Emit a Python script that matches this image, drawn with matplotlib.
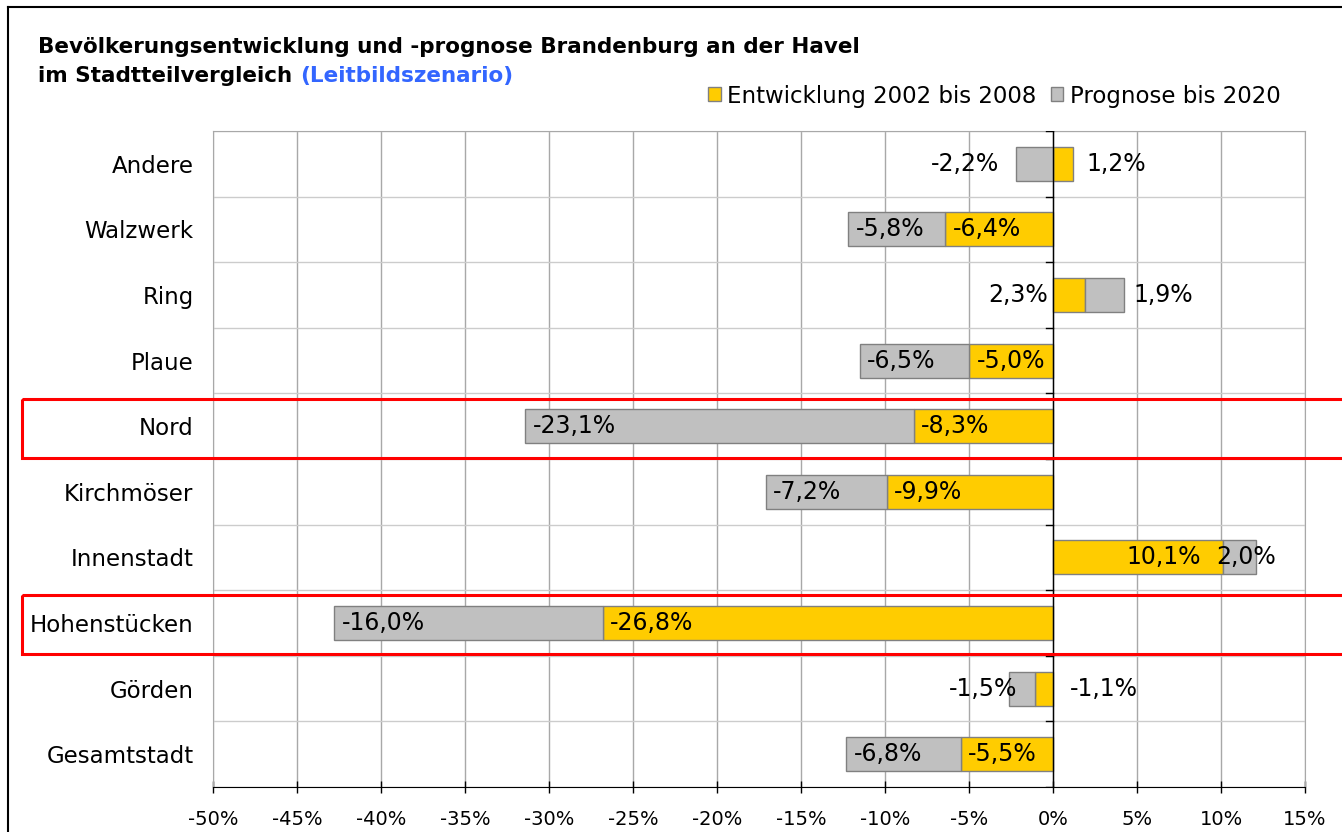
import numpy as np
import matplotlib
matplotlib.use("Agg")
import matplotlib.pyplot as plt
from matplotlib.patches import Rectangle, Patch
from matplotlib.lines import Line2D
from matplotlib.transforms import blended_transform_factory

# data (per cent)
categories = ["Andere", "Walzwerk", "Ring", "Plaue", "Nord", "Kirchmöser",
              "Innenstadt", "Hohenstücken", "Görden", "Gesamtstadt"]
entwicklung = [1.2, -6.4, 1.9, -5.0, -8.3, -9.9, 10.1, -26.8, -1.1, -5.5]
prognose = [-2.2, -5.8, 2.3, -6.5, -23.1, -7.2, 2.0, -16.0, -1.5, -6.8]
highlighted = ["Nord", "Hohenstücken"]
xticks = np.arange(-50, 16, 5)

YELLOW = "#FFCC00"
GREY = "#C0C0C0"
EDGE = "#808080"

# label placement that differs from the default "inside end"
label_fix = {
    ("Andere", 0): ("left", 0.8),
    ("Andere", 1): ("right", -1.0),
    ("Ring", 0): ("left", 2.9),
    ("Ring", 1): ("right", -4.5),
    ("Görden", 0): ("left", 2.1),
    ("Görden", 1): ("right", 0.5),
    ("Innenstadt", 0): ("right", -1.3),
    ("Innenstadt", 1): ("left", -2.4),
}

fig = plt.figure(figsize=(13.42, 8.32), dpi=100)
ax = fig.add_axes([213 / 1342, 45 / 832, 1092 / 1342, 656 / 832])

y = np.arange(len(categories))
ent = np.array(entwicklung)
prg = np.array(prognose)
prg_left = np.where(np.sign(prg) == np.sign(ent), ent, 0)

h = 0.52
ax.barh(y, ent, height=h, color=YELLOW, edgecolor=EDGE, lw=1, zorder=3)
ax.barh(y, prg, left=prg_left, height=h, color=GREY, edgecolor=EDGE, lw=1, zorder=3)


def fmt(v):
    return f"{v:.1f}%".replace(".", ",")


for i, cat in enumerate(categories):
    for s, (val, left) in enumerate([(ent[i], 0), (prg[i], prg_left[i])]):
        end = left + val
        ha, off = label_fix.get((cat, s), ("left", 0.45) if val < 0 else ("right", -0.45))
        ax.text(end + off, i, fmt(val), ha=ha, va="center", fontsize=17, zorder=5)

ax.set_xlim(-50, 15)
ax.set_ylim(len(categories) - 0.5, -0.5)
ax.set_xticks(xticks)
ax.set_xticklabels([f"{t}%" for t in xticks], fontsize=14)
ax.set_yticks(y)
ax.set_yticklabels(categories, fontsize=16.5)
ax.tick_params(axis="y", length=0, pad=14)
ax.tick_params(axis="x", direction="inout", length=9, width=1, pad=12, color="black")

# grid
for t in xticks:
    ax.axvline(t, color="#A8A8A8", lw=1, zorder=1)
for b in np.arange(len(categories) + 1) - 0.5:
    ax.axhline(b, color="#CCCCCC", lw=1, zorder=1)
    ax.plot([-0.4, 0], [b, b], color="black", lw=1, zorder=4)
ax.axvline(0, color="black", lw=1, zorder=4)

for sp in ["top", "right", "left"]:
    ax.spines[sp].set_color("#A8A8A8")
ax.spines["bottom"].set_color("black")
ax.spines["bottom"].set_zorder(5)

# red frames around highlighted rows
trans = blended_transform_factory(fig.transFigure, ax.transData)
for cat in highlighted:
    i = categories.index(cat)
    ax.add_patch(Rectangle((22 / 1342, i - 0.42), 1.0, 0.9, transform=trans,
                           fill=False, ec="#FF0000", lw=2.2, clip_on=False, zorder=6))

# outer chart frame (cut off on right and bottom)
fig.add_artist(Line2D([8 / 1342, 8 / 1342], [0, 1 - 7 / 832], color="black", lw=1.5,
                      transform=fig.transFigure))
fig.add_artist(Line2D([8 / 1342, 1], [1 - 7 / 832, 1 - 7 / 832], color="black", lw=1.5,
                      transform=fig.transFigure))

# title
fig.text(38 / 1342, 1 - 47 / 832, "Bevölkerungsentwicklung und -prognose Brandenburg an der Havel",
         fontsize=15.5, fontweight="bold", va="center")
t2 = fig.text(38 / 1342, 1 - 76 / 832, "im Stadtteilvergleich ", fontsize=15.5,
              fontweight="bold", va="center")
r = fig.canvas.get_renderer()
bb = t2.get_window_extent(renderer=r)
fig.text(bb.x1 / fig.bbox.width, 1 - 76 / 832, "(Leitbildszenario)", fontsize=15.5,
         fontweight="bold", va="center", color="#3366FF")

handles = [Patch(facecolor=YELLOW, edgecolor=EDGE, label="Entwicklung 2002 bis 2008"),
           Patch(facecolor=GREY, edgecolor=EDGE, label="Prognose bis 2020")]
fig.legend(handles=handles, loc="center right", bbox_to_anchor=(1290 / 1342, 1 - 96 / 832),
           ncol=2, frameon=False, fontsize=16.5, handlelength=0.55, handleheight=0.55,
           handletextpad=0.3, columnspacing=0.6, borderaxespad=0)

fig.savefig("out.png", dpi=100)
